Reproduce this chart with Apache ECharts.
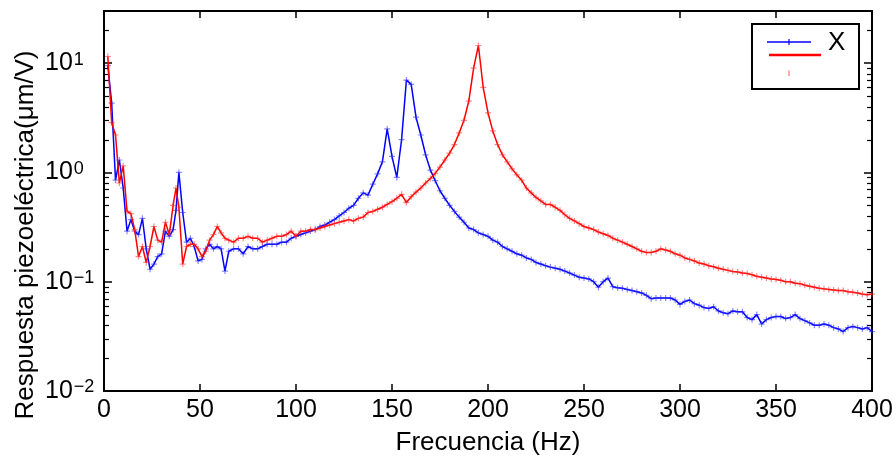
<!DOCTYPE html>
<html>
<head>
<meta charset="utf-8">
<script src="https://cdn.jsdelivr.net/npm/echarts@6/dist/echarts.min.js"></script>
<style>
html,body{margin:0;padding:0;background:#fff;}
#c{width:896px;height:461px;}
</style>
</head>
<body>
<div id="c"></div>
<script>
// Frequency grid (Hz)
const freq = [2,4,6,8,10,12,14,16,18,20,22,24,26,28,30,32,34,36,37.5,39,41,43,45,47,49,51,53,55,57,59,61,63,65,
67.5,70,72.5,75,77.5,80,82.5,85,87.5,90,
92.5,95,97.5,100,102.5,105,107.5,110,112.5,115,
117.5,120,122.5,125,127.5,130,132.5,135,137.5,140,
142.5,145,147.5,150,152.5,155,157.5,160,162.5,165,
167.5,170,172.5,175,177.5,180,182.5,185,187.5,190,
192.5,195,197.5,200,202.5,205,207.5,210,212.5,215,
217.5,220,222.5,225,227.5,230,232.5,235,237.5,240,
242.5,245,247.5,250,252.5,255,257.5,260,262.5,265,
267.5,270,272.5,275,277.5,280,282.5,285,287.5,290,
292.5,295,297.5,300,302.5,305,307.5,310,312.5,315,
317.5,320,322.5,325,327.5,330,332.5,335,337.5,340,
342.5,345,347.5,350,352.5,355,357.5,360,362.5,365,
367.5,370,372.5,375,377.5,380,382.5,385,387.5,390,
392.5,395,397.5,400];

// Blue series (X)
const blueVals = [9.5,4.3,0.85,1.3,0.72,0.29,0.37,0.29,0.27,0.38,0.2,0.13,0.145,0.17,0.18,0.29,0.26,0.30,0.45,1.0,0.43,0.23,0.25,0.21,0.155,0.16,0.20,0.22,0.20,0.21,0.2,0.125,0.19,
0.2,0.2,0.18,0.21,0.2,0.2,0.21,0.22,0.22,0.22,
0.23,0.23,0.25,0.26,0.27,0.28,0.29,0.30,0.32,0.33,
0.35,0.37,0.40,0.43,0.47,0.50,0.58,0.65,0.62,0.78,
0.97,1.25,2.5,1.4,0.9,2.0,7.0,6.4,3.2,2.2,
1.45,1.05,0.84,0.68,0.58,0.50,0.44,0.39,0.35,0.31,
0.30,0.28,0.27,0.26,0.24,0.23,0.21,0.20,0.19,0.18,
0.175,0.165,0.16,0.15,0.145,0.14,0.136,0.133,0.13,0.125,
0.12,0.115,0.11,0.108,0.106,0.1,0.089,0.1,0.108,0.09,
0.088,0.087,0.085,0.083,0.081,0.079,0.075,0.07,0.071,0.071,
0.071,0.071,0.068,0.062,0.066,0.068,0.063,0.061,0.058,0.057,
0.059,0.054,0.052,0.051,0.054,0.053,0.053,0.047,0.045,0.05,
0.041,0.045,0.047,0.048,0.048,0.046,0.047,0.05,0.046,0.044,
0.042,0.04,0.04,0.041,0.04,0.038,0.037,0.035,0.038,0.039,
0.038,0.037,0.038,0.035];

// Red series
const redVals = [11.5,2.85,2.2,0.8,1.15,0.44,0.42,0.30,0.17,0.21,0.15,0.21,0.32,0.24,0.23,0.35,0.27,0.5,0.72,0.48,0.145,0.21,0.22,0.22,0.2,0.17,0.19,0.24,0.27,0.32,0.28,0.25,0.24,
0.23,0.25,0.25,0.26,0.25,0.25,0.23,0.24,0.25,0.26,
0.26,0.27,0.29,0.26,0.29,0.29,0.30,0.30,0.31,0.32,
0.33,0.34,0.35,0.36,0.37,0.36,0.38,0.39,0.43,0.44,
0.46,0.48,0.51,0.54,0.58,0.63,0.53,0.60,0.66,0.72,
0.80,0.88,0.98,1.12,1.3,1.5,1.8,2.3,3.0,4.5,
9.0,14.5,6.0,3.5,2.4,1.8,1.45,1.25,1.08,0.95,
0.85,0.72,0.65,0.59,0.55,0.51,0.51,0.48,0.45,0.41,
0.38,0.36,0.34,0.32,0.31,0.30,0.285,0.275,0.265,0.25,
0.24,0.23,0.22,0.21,0.20,0.19,0.185,0.185,0.19,0.20,
0.195,0.19,0.18,0.175,0.165,0.16,0.155,0.148,0.145,0.14,
0.137,0.133,0.13,0.127,0.124,0.123,0.12,0.119,0.116,0.112,
0.11,0.108,0.106,0.105,0.103,0.10,0.10,0.097,0.096,0.093,
0.091,0.089,0.087,0.086,0.085,0.084,0.083,0.083,0.081,0.08,
0.079,0.077,0.076,0.077];

const xTicks = [0,50,100,150,200,250,300,350,400];
const yMin = 0.01, yMax = 30;
const xTitle = 'Frecuencia (Hz)';
const yTitle = 'Respuesta piezoeléctrica(μm/V)';
const legendLabel = 'X';

const FONT = '"Liberation Sans", Arial, Helvetica, sans-serif';
const plus = 'path://M4,0h2v4h4v2h-4v4h-2v-4h-4v-2h4z';

function pairs(vals){ return vals.map((v,i)=>[freq[i], v]); }

const chart = echarts.init(document.getElementById('c'), null, {renderer:'canvas'});

function logLabel(v){
  const l = Math.log10(v);
  const r = Math.round(l);
  if (Math.abs(l - r) > 1e-6) return '';
  const e = r < 0 ? '\u2212' + Math.abs(r) : String(r);
  return '{b|10}{s|' + e + '}';
}

const axisLine = {show:true, onZero:false, lineStyle:{color:'#000', width:2}};

chart.setOption({
  animation:false,
  backgroundColor:'#fff',
  grid:{left:104, right:24, top:11, bottom:67, containLabel:false},
  xAxis:[{
    type:'value', min:xTicks[0], max:xTicks[xTicks.length-1], interval:50,
    position:'bottom',
    axisLine:axisLine,
    axisTick:{show:true, inside:true, length:7, lineStyle:{color:'#000', width:1.5}},
    axisLabel:{show:true, margin:7, color:'#000', fontSize:25, fontFamily:FONT},
    splitLine:{show:false},
    name:xTitle, nameLocation:'middle', nameGap:39,
    nameTextStyle:{color:'#000', fontSize:26, fontFamily:FONT}
  },{
    type:'value', min:xTicks[0], max:xTicks[xTicks.length-1], interval:50,
    position:'top',
    axisLine:axisLine,
    axisTick:{show:true, inside:true, length:7, lineStyle:{color:'#000', width:1.5}},
    axisLabel:{show:false}, splitLine:{show:false}
  }],
  yAxis:[{
    type:'log', logBase:10, min:yMin, max:yMax,
    position:'left',
    axisLine:axisLine,
    axisTick:{show:true, inside:true, length:8, lineStyle:{color:'#000', width:1.5}},
    axisLabel:{show:true, align:'left', margin:59, color:'#000', fontFamily:FONT,
      showMaxLabel:false,
      formatter:logLabel,
      rich:{
        b:{fontSize:25, lineHeight:25, verticalAlign:'bottom', fontFamily:FONT, color:'#000'},
        s:{fontSize:18, lineHeight:18, verticalAlign:'top', padding:[0,0,12,1], fontFamily:FONT, color:'#000'}
      }},
    splitLine:{show:false}, minorTick:{show:false}
  },{
    type:'log', logBase:10, min:yMin, max:yMax,
    position:'right',
    axisLine:axisLine,
    axisTick:{show:true, inside:true, length:8, lineStyle:{color:'#000', width:1.5}},
    axisLabel:{show:false}, splitLine:{show:false}
  }],
  series:[{
    name:legendLabel, type:'line', xAxisIndex:0, yAxisIndex:0,
    data:pairs(blueVals),
    symbol:plus, symbolSize:6, showSymbol:true, showAllSymbol:true,
    itemStyle:{color:'rgba(40,40,255,0.55)'},
    lineStyle:{color:'#0000ff', width:1.5},
    z:3
  },{
    name:'red', type:'line', xAxisIndex:0, yAxisIndex:0,
    data:pairs(redVals),
    symbol:plus, symbolSize:6, showSymbol:true, showAllSymbol:true,
    itemStyle:{color:'rgba(255,40,40,0.55)'},
    lineStyle:{color:'#ff0000', width:1.5},
    z:4
  }]
});

// minor log ticks + legend + y title
const g = [];
const xl = chart.convertToPixel({xAxisIndex:0}, 0);
const xr = chart.convertToPixel({xAxisIndex:0}, 400);
for (let d=-2; d<=1; d++){
  for (let k=2; k<=9; k++){
    const v = k*Math.pow(10,d);
    if (v >= yMax) continue;
    const y = Math.round(chart.convertToPixel({yAxisIndex:0}, v)) + 0.5;
    g.push({type:'line', shape:{x1:xl, y1:y, x2:xl+5, y2:y}, style:{stroke:'#000', lineWidth:1.2}, silent:true});
    g.push({type:'line', shape:{x1:xr-5, y1:y, x2:xr, y2:y}, style:{stroke:'#000', lineWidth:1.2}, silent:true});
  }
}
// legend box
g.push({type:'rect', shape:{x:752, y:24, width:107, height:65}, style:{fill:'#fff', stroke:'#000', lineWidth:2}, z:10});
g.push({type:'line', shape:{x1:767, y1:42, x2:811, y2:42}, style:{stroke:'#0000ff', lineWidth:1.5}, z:11});
g.push({type:'line', shape:{x1:789, y1:39, x2:789, y2:45}, style:{stroke:'#0000ff', lineWidth:1.2}, z:11});
g.push({type:'line', shape:{x1:769, y1:55, x2:821, y2:55}, style:{stroke:'#ff0000', lineWidth:2.5}, z:11});
g.push({type:'line', shape:{x1:789, y1:70.5, x2:789, y2:76}, style:{stroke:'rgba(255,0,0,0.55)', lineWidth:1.2}, z:11});
g.push({type:'text', x:828, y:43, style:{text:legendLabel, font:'26px ' + FONT, fill:'#000', align:'left', verticalAlign:'middle'}, z:11});
// y axis title
g.push({type:'text', x:26, y:235, rotation:Math.PI/2, style:{text:yTitle, font:'26px ' + FONT, fill:'#000', align:'center', verticalAlign:'middle'}, z:11});

chart.setOption({graphic:{elements:g}});
</script>
</body>
</html>
